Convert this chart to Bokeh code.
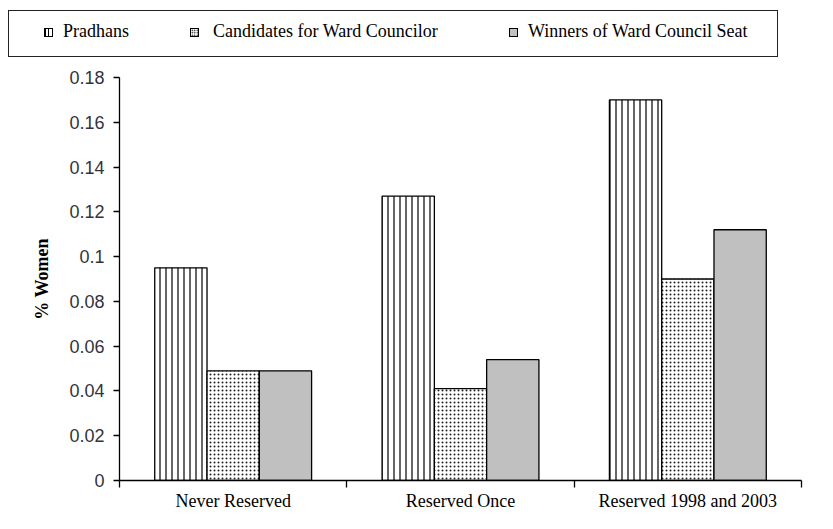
import numpy as np
from bokeh.plotting import figure
from bokeh.layouts import column
from bokeh.models import Range1d, FixedTicker, ColumnDataSource, Div
from bokeh.transform import dodge
from bokeh.embed import file_html
from bokeh.resources import INLINE

categories = ["Never Reserved", "Reserved Once", "Reserved 1998 and 2003"]
series_names = ["Pradhans", "Candidates for Ward Councilor", "Winners of Ward Council Seat"]
pradhans = [0.095, 0.127, 0.170]
candidates = [0.049, 0.041, 0.090]
winners = [0.049, 0.054, 0.112]
ytick_values = [0, 0.02, 0.04, 0.06, 0.08, 0.1, 0.12, 0.14, 0.16, 0.18]
ytick_labels = ["0", "0.02", "0.04", "0.06", "0.08", "0.1", "0.12", "0.14", "0.16", "0.18"]
y_title = "% Women"

SERIF = "Liberation Serif"
SANS = "Liberation Sans"

styles = [
    dict(fill_color="white", line_color="black", line_width=1.3, hatch_pattern="vertical_line",
         hatch_color="black", hatch_scale=6, hatch_weight=1.2),
    dict(fill_color="white", line_color="black", line_width=1.3, hatch_pattern="dot",
         hatch_color="#222222", hatch_scale=4, hatch_weight=1.0),
    dict(fill_color="#c0c0c0", line_color="black", line_width=1.3),
]

# ---------- legend strip (HTML) ----------
icon_bg = [
    "repeating-linear-gradient(90deg, #000 0 1px, #fff 1px 3.3px)",
    "radial-gradient(circle, #000 0.7px, transparent 0.9px) 0 0/2.5px 2.5px, #fff",
    "#c0c0c0",
]
icon_left = [43, 189, 508]
text_left = [62, 212, 527]
FONT_CSS = "font-family:'Liberation Serif', 'Times New Roman', serif !important;"
items_html = ""
for nm, bg, xl, tl in zip(series_names, icon_bg, icon_left, text_left):
    items_html += (
        f'<div style="position:absolute;left:{xl - 8}px;top:17px;width:9px;height:9px;'
        f'border:1px solid #000;background:{bg};"></div>'
        f'<span style="position:absolute;left:{tl - 8}px;top:9px;{FONT_CSS}'
        f'font-size:18px !important;line-height:22px;color:#000;white-space:nowrap;">'
        f'<font face="Liberation Serif">{nm}</font></span>'
    )
legend_html = (
    f'<div style="position:relative;width:817px;height:60px;{FONT_CSS}">'
    '<div style="position:absolute;left:8px;top:10px;width:770px;height:47px;'
    'border:1.5px solid #222;background:#fff;">' + items_html + '</div></div>'
)
legend_div = Div(text=legend_html, width=817, height=60, margin=(0, 0, 0, 0),
                 stylesheets=[":host, :host * { font-family: 'Liberation Serif', serif !important; }"])

# ---------- chart ----------
n = len(categories)
centers = np.arange(n) + 0.5
bounds = list(np.arange(n + 1).astype(float))

p = figure(width=817, height=453, output_backend="svg", toolbar_location=None,
           x_range=Range1d(0, n), y_range=Range1d(0, 0.18),
           min_border_left=119, min_border_right=16, min_border_top=17, min_border_bottom=30)
p.outline_line_color = None
p.xgrid.visible = False
p.ygrid.visible = False

bw = 0.23
src = ColumnDataSource(dict(x=centers, pr=pradhans, ca=candidates, wi=winners))
p.vbar(x=dodge("x", -bw), top="pr", width=bw, source=src, **styles[0])
p.vbar(x=dodge("x", 0), top="ca", width=bw, source=src, **styles[1])
p.vbar(x=dodge("x", bw), top="wi", width=bw, source=src, **styles[2])

ya = p.yaxis[0]
ya.ticker = FixedTicker(ticks=ytick_values)
ya.major_label_overrides = {v: l for v, l in zip(ytick_values, ytick_labels)}
ya.major_label_text_font = SANS
ya.major_label_text_font_size = "18px"
ya.major_label_text_color = "#333340"
ya.major_tick_in = 0
ya.major_tick_out = 6
ya.minor_tick_line_color = None
ya.major_label_standoff = 9
ya.axis_line_width = 1.3
ya.major_tick_line_width = 1.3
ya.axis_label = y_title
ya.axis_label_text_font = SERIF
ya.axis_label_text_font_style = "bold"
ya.axis_label_text_font_size = "18px"
ya.axis_label_text_color = "black"
ya.axis_label_standoff = 14

xa = p.xaxis[0]
xa.ticker = FixedTicker(ticks=list(centers), minor_ticks=bounds)
xa.major_label_overrides = {float(c): cat for c, cat in zip(centers, categories)}
xa.major_label_text_font = SERIF
xa.major_label_text_font_size = "18px"
xa.major_label_text_color = "black"
xa.major_tick_line_color = None
xa.major_tick_out = 0
xa.major_tick_in = 0
xa.minor_tick_line_color = "black"
xa.minor_tick_out = 7
xa.minor_tick_in = 0
xa.minor_tick_line_width = 1.3
xa.major_label_standoff = 3
xa.axis_line_width = 1.3

layout = column(legend_div, p, spacing=0)
open("out.html", "w").write(file_html(layout, INLINE))
